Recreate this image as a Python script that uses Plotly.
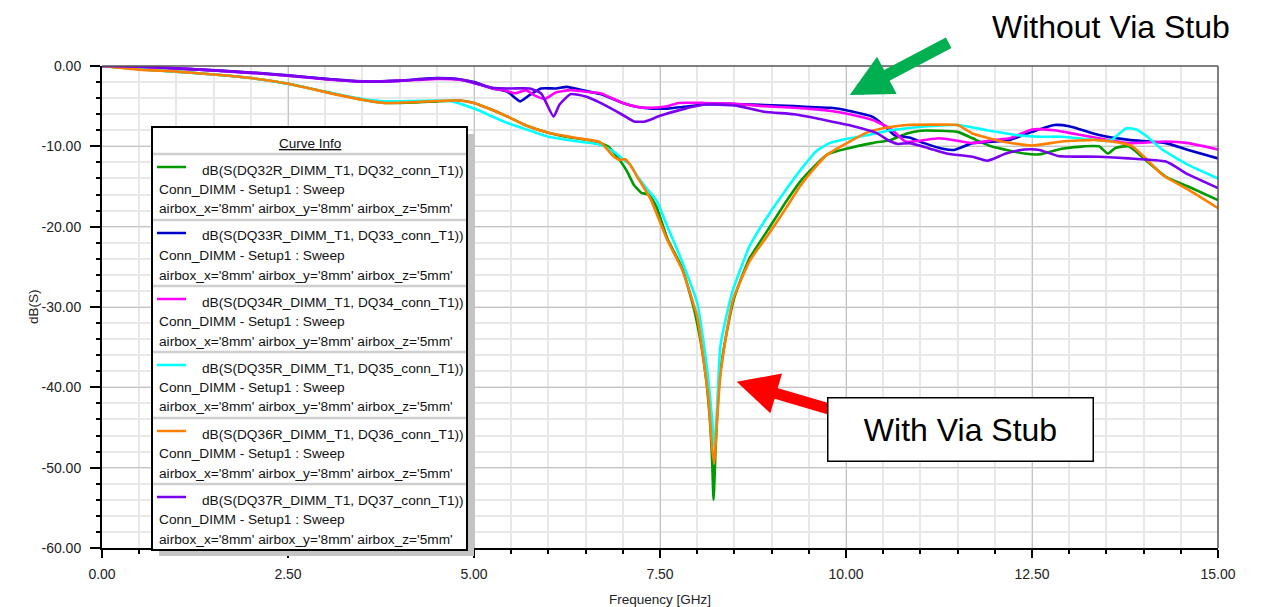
import plotly.graph_objects as go

# ---------------- data ----------------
freq_dq32 = [0, 0.5, 1.0, 1.5, 2.0, 2.5, 3.0, 3.5, 3.8, 4.2, 4.5, 4.8, 5.0, 5.2, 5.45, 5.7, 6.0, 6.3, 6.6, 6.8,
             6.95, 7.05, 7.15, 7.25, 7.35, 7.45, 7.6, 7.8, 7.95, 8.05, 8.12, 8.17, 8.2, 8.22, 8.25, 8.3, 8.4,
             8.5, 8.7, 8.95, 9.2, 9.4, 9.75, 10.05, 10.35, 10.6, 10.82, 11.0, 11.5, 11.7, 11.95, 12.4, 12.6,
             12.9, 13.2, 13.4, 13.52, 13.62, 13.8, 14.05, 14.3, 14.6, 15.0]
db_dq32 = [0, -0.4, -0.7, -1.05, -1.5, -2.2, -3.2, -4.2, -4.6, -4.55, -4.4, -4.3, -4.6, -5.3, -6.3, -7.4, -8.3,
           -8.9, -9.3, -10.0, -11.6, -13.0, -14.8, -15.8, -16.0, -17.5, -21.5, -25.2, -30.0, -34.5, -39.0,
           -44.0, -49.0, -54.0, -47.0, -39.0, -33.0, -28.8, -24.0, -20.4, -16.8, -14.2, -11.0, -10.2, -9.6,
           -9.2, -8.4, -8.05, -8.2, -9.0, -10.0, -10.9, -11.0, -10.3, -10.0, -10.0, -10.9, -10.2, -10.0,
           -11.9, -13.8, -15.0, -16.7]

freq_dq33 = [0, 0.5, 1.0, 1.5, 2.0, 2.5, 3.0, 3.5, 4.0, 4.5, 4.8, 5.0, 5.25, 5.45, 5.62, 5.75, 5.9, 6.1, 6.25,
             6.45, 6.7, 7.0, 7.2, 7.4, 7.6, 7.8, 8.1, 8.4, 8.9, 9.3, 9.6, 9.8, 10.05, 10.35, 10.5, 10.65, 10.85,
             11.05, 11.3, 11.45, 11.7, 12.0, 12.2, 12.5, 12.8, 13.0, 13.4, 13.8, 14.3, 14.6, 15.0]
db_dq33 = [0, -0.1, -0.3, -0.55, -0.8, -1.15, -1.6, -1.9, -1.8, -1.5, -1.65, -2.0, -2.8, -3.2, -4.4, -3.6, -2.8,
           -2.8, -2.6, -3.0, -3.5, -4.6, -5.1, -5.3, -5.3, -5.1, -4.8, -4.7, -4.85, -5.0, -5.15, -5.2, -5.6,
           -6.3, -7.3, -8.6, -8.9, -9.6, -10.3, -10.45, -9.6, -9.4, -9.2, -8.2, -7.35, -7.5, -8.6, -9.2, -9.6,
           -10.45, -11.5]

freq_dq34 = [0, 0.5, 1.0, 1.5, 2.0, 2.5, 3.0, 3.5, 4.0, 4.5, 4.8, 5.0, 5.25, 5.4, 5.55, 5.7, 5.8, 5.95, 6.1,
             6.3, 6.5, 6.7, 7.0, 7.2, 7.4, 7.6, 7.75, 8.1, 8.5, 8.9, 9.3, 9.6, 9.8, 10.05, 10.35, 10.6, 10.8,
             11.0, 11.25, 11.5, 11.7, 12.0, 12.2, 12.5, 12.8, 13.1, 13.4, 13.8, 14.3, 14.6, 15.0]
db_dq34 = [0, -0.1, -0.3, -0.55, -0.85, -1.2, -1.65, -1.95, -1.85, -1.6, -1.7, -2.1, -2.8, -3.0, -3.4, -3.0,
           -3.6, -4.1, -3.3, -3.0, -3.2, -3.4, -4.6, -5.1, -5.2, -5.0, -4.6, -4.6, -4.7, -5.0, -5.2, -5.4, -5.6,
           -6.0, -6.7, -7.8, -9.4, -9.3, -9.0, -9.3, -9.6, -9.2, -9.0, -7.9, -8.0, -8.5, -9.0, -9.6, -9.4,
           -9.6, -10.4]

freq_dq35 = [0, 0.5, 1.0, 1.5, 2.0, 2.5, 3.0, 3.5, 3.8, 4.2, 4.5, 4.7, 5.0, 5.45, 5.8, 6.0, 6.4, 6.7, 6.9, 7.0,
             7.1, 7.2, 7.3, 7.45, 7.6, 7.8, 8.0, 8.08, 8.15, 8.2, 8.23, 8.27, 8.31, 8.4, 8.48, 8.7, 8.94, 9.2,
             9.4, 9.6, 9.78, 10.05, 10.3, 10.6, 10.82, 11.1, 11.5, 11.9, 12.3, 12.6, 12.9, 13.35, 13.55, 13.65,
             13.77, 13.9, 14.05, 14.25, 14.6, 15.0]
db_dq35 = [0, -0.4, -0.7, -1.05, -1.5, -2.2, -3.2, -4.1, -4.4, -4.35, -4.3, -4.4, -5.3, -7.1, -8.2, -8.8, -9.4,
           -9.8, -10.8, -11.6, -12.3, -13.8, -15.0, -16.7, -20.0, -24.4, -29.5, -34.0, -39.0, -44.0, -47.5,
           -42.0, -35.0, -30.8, -27.9, -22.5, -18.8, -15.3, -12.8, -10.6, -9.6, -9.0, -8.6, -8.0, -7.75, -7.5,
           -7.35, -8.0, -8.6, -8.8, -8.8, -9.2, -9.3, -8.6, -7.75, -7.9, -8.8, -10.4, -12.3, -14.0]

freq_dq36 = [0, 0.5, 1.0, 1.5, 2.0, 2.5, 3.0, 3.5, 3.8, 4.2, 4.5, 4.8, 5.0, 5.2, 5.45, 5.7, 6.0, 6.4, 6.7, 6.87,
             6.96, 7.03, 7.1, 7.2, 7.37, 7.6, 7.8, 8.0, 8.08, 8.15, 8.2, 8.23, 8.26, 8.31, 8.4, 8.48, 8.71, 8.94,
             9.2, 9.38, 9.55, 9.75, 10.05, 10.3, 10.6, 10.82, 11.2, 11.5, 11.7, 12.1, 12.5, 12.9, 13.35, 13.7,
             13.85, 14.05, 14.26, 14.6, 15.0]
db_dq36 = [0, -0.45, -0.7, -1.05, -1.5, -2.2, -3.25, -4.2, -4.6, -4.5, -4.35, -4.3, -4.6, -5.3, -6.3, -7.4,
           -8.3, -9.0, -9.5, -11.2, -11.7, -11.6, -12.3, -13.9, -16.5, -21.7, -25.4, -31.2, -36.2, -41.2, -47.4,
           -49.5, -45.0, -38.7, -32.9, -29.1, -24.2, -21.2, -17.6, -15.0, -13.0, -11.0, -9.4, -8.2, -7.6,
           -7.35, -7.3, -7.35, -8.4, -9.4, -9.9, -9.4, -9.2, -9.6, -10.0, -11.7, -13.6, -15.4, -17.7]

freq_dq37 = [0, 0.5, 1.0, 1.5, 2.0, 2.5, 3.0, 3.5, 4.0, 4.5, 4.8, 5.0, 5.25, 5.5, 5.75, 5.9, 6.07, 6.15, 6.3,
             6.5, 6.7, 7.0, 7.15, 7.3, 7.5, 7.8, 8.1, 8.5, 8.9, 9.3, 9.6, 9.85, 10.1, 10.4, 10.6, 10.7, 10.85,
             11.1, 11.35, 11.7, 11.9, 12.15, 12.4, 12.6, 12.85, 13.4, 13.8, 14.3, 14.6, 15.0]
db_dq37 = [0, -0.1, -0.3, -0.55, -0.85, -1.2, -1.6, -1.95, -1.85, -1.55, -1.65, -2.1, -2.7, -2.8, -2.8, -3.4,
           -6.3, -4.8, -3.5, -3.8, -4.6, -6.1, -6.9, -6.9, -6.2, -5.4, -4.8, -4.9, -5.7, -6.0, -6.5, -7.0, -7.5,
           -8.3, -9.4, -9.7, -9.6, -10.2, -10.9, -11.3, -11.8, -10.9, -10.4, -10.45, -11.2, -11.3, -11.5,
           -11.9, -13.5, -15.2]

curve_names = ["dB(S(DQ32R_DIMM_T1, DQ32_conn_T1))", "dB(S(DQ33R_DIMM_T1, DQ33_conn_T1))",
               "dB(S(DQ34R_DIMM_T1, DQ34_conn_T1))", "dB(S(DQ35R_DIMM_T1, DQ35_conn_T1))",
               "dB(S(DQ36R_DIMM_T1, DQ36_conn_T1))", "dB(S(DQ37R_DIMM_T1, DQ37_conn_T1))"]
setup_label = "Conn_DIMM - Setup1 : Sweep"
param_label = "airbox_x='8mm' airbox_y='8mm' airbox_z='5mm'"

x_tickvals = [0, 2.5, 5.0, 7.5, 10.0, 12.5, 15.0]
x_ticktext = ["0.00", "2.50", "5.00", "7.50", "10.00", "12.50", "15.00"]
y_tickvals = [0, -10, -20, -30, -40, -50, -60]
y_ticktext = ["0.00", "-10.00", "-20.00", "-30.00", "-40.00", "-50.00", "-60.00"]

# ---------------- styling ----------------
colors = ["#009a00", "#0000cc", "#ff00ff", "#00ffff", "#ff8000", "#7a00f0"]
FONT = "Liberation Sans, Arial, sans-serif"

# page has an 8px body margin: work in screen pixels, offset by OFF
OFF = 8
W, H = 1269 - OFF, 607 - OFF
L, R, T, B = 102 - OFF, 51, 66 - OFF, 59
PW, PH = W - L - R, H - T - B


def px(x):
    # x given in screen pixels of the reference
    return (x - OFF - L) / PW


def py(y):
    return (H - B - (y - OFF)) / PH


series = [(freq_dq32, db_dq32), (freq_dq33, db_dq33), (freq_dq34, db_dq34),
          (freq_dq35, db_dq35), (freq_dq36, db_dq36), (freq_dq37, db_dq37)]

fig = go.Figure()
for (fx, fy), name, c in zip(series, curve_names, colors):
    fig.add_trace(go.Scatter(x=fx, y=fy, mode="lines", name=name,
                             line=dict(color=c, width=2.6, shape="spline", smoothing=0.5),
                             showlegend=False))

shapes = []
annotations = []

# plot frame (top/right grey)
shapes.append(dict(type="line", xref="paper", yref="paper", x0=0, x1=1, y0=1, y1=1,
                   line=dict(color="#555555", width=1.5)))
shapes.append(dict(type="line", xref="paper", yref="paper", x0=1, x1=1, y0=0, y1=1,
                   line=dict(color="#555555", width=1.5)))

# custom "Curve Info" box
bx0, bx1, by0, by1 = 152, 467, 127, 550
shapes.append(dict(type="rect", xref="paper", yref="paper", layer="above",
                   x0=px(bx0 + 7), x1=px(bx1 + 7), y0=py(by0 + 7), y1=py(by1 + 6),
                   fillcolor="#c4c4c4", line=dict(width=0)))
shapes.append(dict(type="rect", xref="paper", yref="paper", layer="above",
                   x0=px(bx0), x1=px(bx1), y0=py(by0), y1=py(by1),
                   fillcolor="white", line=dict(color="black", width=2)))
annotations.append(dict(xref="paper", yref="paper", x=px(310), y=py(143), text="<u>Curve Info</u>",
                        showarrow=False, xanchor="center", yanchor="middle",
                        font=dict(family=FONT, size=13.5, color="#111111")))
for i, (name, c) in enumerate(zip(curve_names, colors)):
    sy = 154 + 66 * i
    shapes.append(dict(type="line", xref="paper", yref="paper", layer="above",
                       x0=px(bx0 + 1), x1=px(bx1 - 1), y0=py(sy), y1=py(sy),
                       line=dict(color="#cfcfcf", width=2.5)))
    shapes.append(dict(type="line", xref="paper", yref="paper", layer="above",
                       x0=px(157), x1=px(186), y0=py(sy + 13), y1=py(sy + 13),
                       line=dict(color=c, width=2.5)))
    for txt, tx, dy in [(name, 200, 16), (setup_label, 157, 35), (param_label, 157, 55)]:
        annotations.append(dict(xref="paper", yref="paper", x=px(tx), y=py(sy + dy), text=txt,
                                showarrow=False, xanchor="left", yanchor="middle",
                                font=dict(family=FONT, size=13.7, color="#111111")))

# axis titles placed at their reference positions
annotations.append(dict(xref="paper", yref="paper", x=px(660), y=py(599), text="Frequency [GHz]",
                        showarrow=False, xanchor="center", yanchor="middle",
                        font=dict(family=FONT, size=13.5, color="#222222")))
annotations.append(dict(xref="paper", yref="paper", x=px(33), y=py(307), text="dB(S)", textangle=-90,
                        showarrow=False, xanchor="center", yanchor="middle",
                        font=dict(family=FONT, size=13.5, color="#222222")))

# call-outs
annotations.append(dict(xref="paper", yref="paper", x=px(1111), y=py(27), text="Without Via Stub",
                        showarrow=False, xanchor="center", yanchor="middle",
                        font=dict(family=FONT, size=32, color="black")))
annotations.append(dict(xref="x", yref="y", x=10.05, y=-3.6, axref="x", ayref="y", ax=11.4, ay=3.0,
                        text="", showarrow=True, arrowhead=2, arrowsize=0.7, arrowwidth=12,
                        arrowcolor="#00b050", standoff=0))
annotations.append(dict(xref="x", yref="y", x=8.53, y=-39.3, axref="x", ayref="y", ax=9.81, ay=-42.8,
                        text="", showarrow=True, arrowhead=2, arrowsize=0.75, arrowwidth=11,
                        arrowcolor="#ff0000", standoff=0))
annotations.append(dict(xref="paper", yref="paper", x=px(960.5), y=py(429), text="With Via Stub",
                        showarrow=False, xanchor="center", yanchor="middle", width=264, height=62,
                        bgcolor="white", bordercolor="black", borderwidth=1.5, borderpad=0,
                        font=dict(family=FONT, size=32, color="black")))

fig.update_layout(
    width=W, height=H,
    margin=dict(l=L, r=R, t=T, b=B, autoexpand=False),
    paper_bgcolor="white", plot_bgcolor="white",
    font=dict(family=FONT, size=14, color="#222222"),
    shapes=shapes, annotations=annotations,
    xaxis=dict(range=[0, 15], tickmode="array", tickvals=x_tickvals, ticktext=x_ticktext,
               automargin=False,
               showline=True, linecolor="black", linewidth=2, ticks="outside", ticklen=8,
               tickcolor="black", tickwidth=1.5, ticklabelstandoff=4,
               showgrid=True, gridcolor="#c4c4c4", gridwidth=1.2, zeroline=False,
               tickfont=dict(size=14, color="#222222"),
               minor=dict(dtick=0.5, tick0=0, ticks="outside", ticklen=4, tickcolor="black",
                          showgrid=True, gridcolor="#e8e8e8", gridwidth=2)),
    yaxis=dict(range=[-60, 0], tickmode="array", tickvals=y_tickvals, ticktext=y_ticktext,
               automargin=False,
               showline=True, linecolor="black", linewidth=2, ticks="outside", ticklen=10,
               tickcolor="black", tickwidth=1.5, ticklabelstandoff=6,
               showgrid=True, gridcolor="#c4c4c4", gridwidth=1.2, zeroline=False,
               tickfont=dict(size=14, color="#222222"),
               minor=dict(dtick=2, tick0=0, ticks="outside", ticklen=4, tickcolor="black",
                          showgrid=True, gridcolor="#e8e8e8", gridwidth=2)),
)

fig.write_html("out.html")
